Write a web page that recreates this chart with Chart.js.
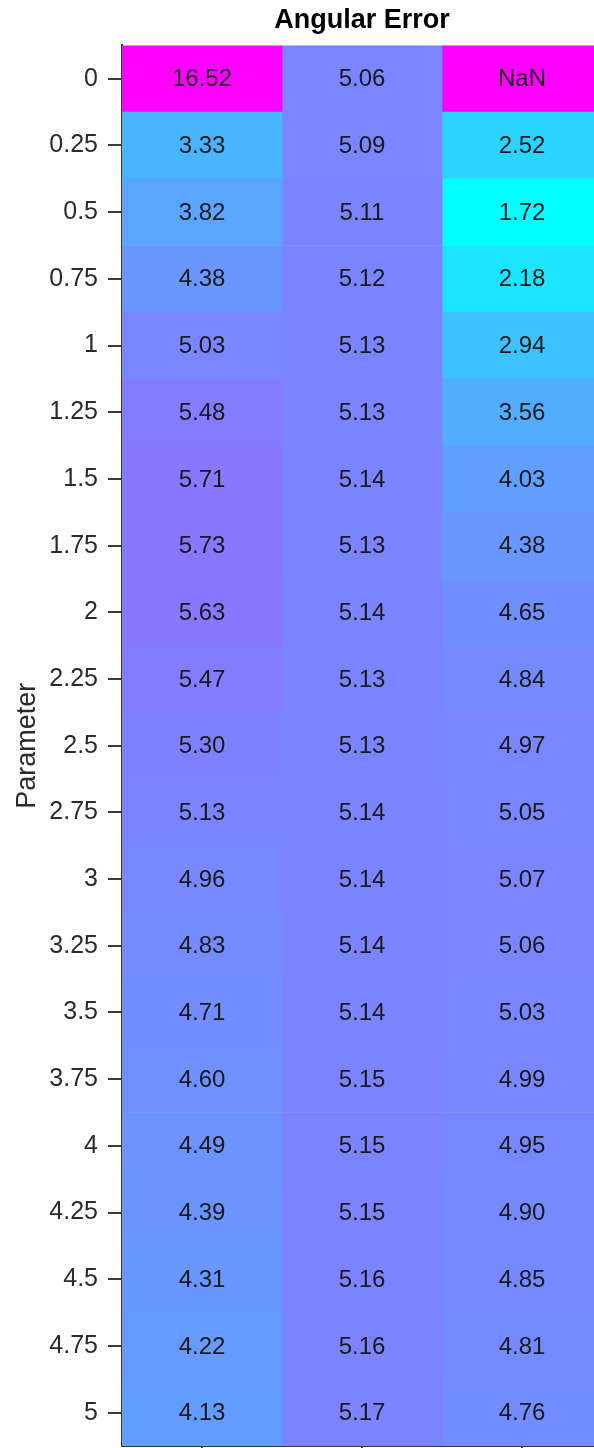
<!DOCTYPE html>
<html lang="en">

<head>
    <meta charset="UTF-8">
    <title>Angular Error</title>
    <script src="https://cdn.jsdelivr.net/npm/chart.js"></script>
    <style>
        html, body { margin: 0; padding: 0; overflow: hidden; background: #fff; }
        .grafico { width: 610px; height: 1448px; }
    </style>
</head>

<body>
    <div class="grafico">
        <canvas id="myChart"></canvas>
    </div>
</body>

<script>
    // rows (parameter values) and the three unlabeled columns
    const parametros = ['0', '0.25', '0.5', '0.75', '1', '1.25', '1.5', '1.75', '2', '2.25', '2.5',
        '2.75', '3', '3.25', '3.5', '3.75', '4', '4.25', '4.5', '4.75', '5'];
    const erroCol1 = [16.52, 3.33, 3.82, 4.38, 5.03, 5.48, 5.71, 5.73, 5.63, 5.47, 5.30,
        5.13, 4.96, 4.83, 4.71, 4.60, 4.49, 4.39, 4.31, 4.22, 4.13];
    const erroCol2 = [5.06, 5.09, 5.11, 5.12, 5.13, 5.13, 5.14, 5.13, 5.14, 5.13, 5.13,
        5.14, 5.14, 5.14, 5.14, 5.15, 5.15, 5.15, 5.16, 5.16, 5.17];
    const erroCol3 = [NaN, 2.52, 1.72, 2.18, 2.94, 3.56, 4.03, 4.38, 4.65, 4.84, 4.97,
        5.05, 5.07, 5.06, 5.03, 4.99, 4.95, 4.90, 4.85, 4.81, 4.76];
    const colunas = [erroCol1, erroCol2, erroCol3];

    const fonte = '"Liberation Sans", Arial, Helvetica, sans-serif';

    // "cool" colormap, log scale between min and max of the data
    const validos = colunas.flat().filter(v => !isNaN(v));
    const logMin = Math.log(Math.min(...validos));
    const logMax = Math.log(Math.max(...validos));

    function corCool(v) {
        if (isNaN(v)) return 'rgb(255,0,255)';
        let t = (Math.log(v) - logMin) / (logMax - logMin);
        t = Math.min(1, Math.max(0, t));
        return `rgb(${Math.round(255 * t)},${Math.round(255 * (1 - t))},255)`;
    }

    // writes the value in the middle of each cell
    const textoCelulas = {
        id: 'textoCelulas',
        afterDatasetsDraw(chart) {
            const c = chart.ctx;
            c.save();
            c.font = `24px ${fonte}`;
            c.fillStyle = '#1a1a1a';
            c.textAlign = 'center';
            c.textBaseline = 'middle';
            chart.data.datasets.forEach((ds, i) => {
                chart.getDatasetMeta(i).data.forEach((bar, j) => {
                    const v = ds.valores[j];
                    const p = bar.getCenterPoint();
                    c.fillText(isNaN(v) ? 'NaN' : v.toFixed(2), p.x, p.y + 1);
                });
            });
            c.restore();
        }
    };

    const ctx = document.getElementById('myChart');

    const chart = new Chart(ctx, {
        type: 'bar',
        data: {
            labels: parametros,
            datasets: colunas.map((vals, c) => ({
                label: 'col' + (c + 1),
                data: vals.map(() => [c - 0.5, c + 0.5]),
                valores: vals,
                backgroundColor: vals.map(corCool),
                borderWidth: 0,
                grouped: false,
                barPercentage: 1,
                categoryPercentage: 1
            }))
        },
        options: {
            indexAxis: 'y',
            responsive: true,
            maintainAspectRatio: false,
            animation: false,
            layout: { padding: { right: 8, bottom: 0, top: 0, left: 0 } },
            plugins: {
                legend: { display: false },
                tooltip: { enabled: false },
                title: {
                    display: true,
                    text: 'Angular Error',
                    fullSize: false,
                    color: '#000',
                    font: { family: fonte, size: 27, weight: 'bold' },
                    padding: { top: 4, bottom: 9 }
                }
            },
            scales: {
                x: {
                    type: 'linear',
                    min: -0.5,
                    max: 2.5,
                    afterBuildTicks: ax => { ax.ticks = [0, 1, 2].map(v => ({ value: v })); },
                    afterFit: ax => { ax.height = 2; ax.paddingLeft = 0; ax.paddingRight = 0; },
                    ticks: { display: false },
                    grid: { drawOnChartArea: false, tickLength: 6, tickColor: '#3a3a3a', lineWidth: 2 },
                    border: { color: '#3a3a3a', width: 2 }
                },
                y: {
                    type: 'category',
                    afterFit: ax => { ax.width = 122; ax.paddingTop = 0; ax.paddingBottom = 0; },
                    ticks: { color: '#2b2b2b', font: { family: fonte, size: 25 }, padding: 10 },
                    grid: { offset: false, drawOnChartArea: false, tickLength: 14, tickColor: '#3a3a3a', lineWidth: 2 },
                    border: { color: '#3a3a3a', width: 2 },
                    title: {
                        display: true,
                        text: 'Parameter',
                        color: '#2b2b2b',
                        font: { family: fonte, size: 27 },
                        padding: { top: 11, bottom: 0 }
                    }
                }
            }
        },
        plugins: [textoCelulas]
    });
</script>

</html>
